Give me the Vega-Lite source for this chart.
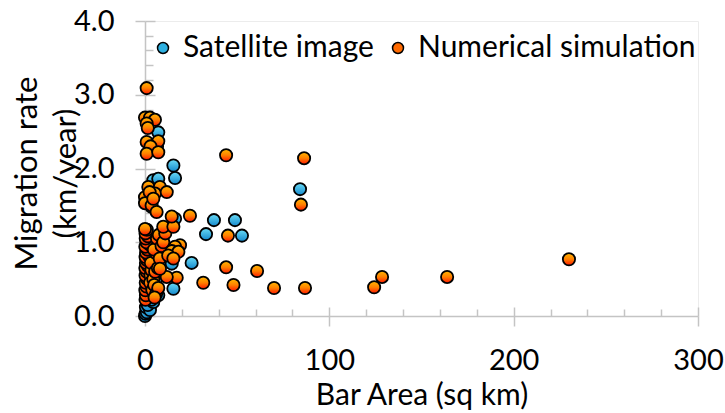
{
  "$schema": "https://vega.github.io/schema/vega-lite/v6.json",
  "width": 553,
  "height": 295,
  "autosize": {"type": "none"},
  "padding": {"left": 145, "top": 21, "right": 27, "bottom": 97},
  "background": "white",
  "config": {
    "view": {"stroke": "#ececec", "strokeWidth": 1},
    "font": "Lato",
    "axis": {"labelFont": "Lato", "titleFont": "Lato", "labelColor": "#000000", "titleColor": "#000000", "titleFontWeight": "normal", "domainColor": "#c4c4c4", "tickColor": "#c4c4c4", "domainWidth": 1.5, "tickWidth": 1.5, "grid": false, "labelFlush": false, "labelOverlap": false},
    "legend": {"labelFont": "Lato", "labelColor": "#000000"}
  },
  "data": {"values": [
    {"area": 0, "rate": 0.0, "series": "Satellite image"},
    {"area": 0.3, "rate": 0.03, "series": "Satellite image"},
    {"area": 1, "rate": 0.05, "series": "Satellite image"},
    {"area": 0.5, "rate": 0.12, "series": "Satellite image"},
    {"area": 2.7, "rate": 0.08, "series": "Satellite image"},
    {"area": 1.5, "rate": 0.15, "series": "Satellite image"},
    {"area": 4.5, "rate": 0.19, "series": "Satellite image"},
    {"area": 3.5, "rate": 0.22, "series": "Satellite image"},
    {"area": 7.2, "rate": 0.28, "series": "Satellite image"},
    {"area": 5.5, "rate": 0.31, "series": "Satellite image"},
    {"area": 2, "rate": 0.4, "series": "Satellite image"},
    {"area": 6, "rate": 0.5, "series": "Satellite image"},
    {"area": 8, "rate": 0.6, "series": "Satellite image"},
    {"area": 1, "rate": 0.7, "series": "Satellite image"},
    {"area": 4, "rate": 0.75, "series": "Satellite image"},
    {"area": 7, "rate": 0.98, "series": "Satellite image"},
    {"area": 3, "rate": 1.02, "series": "Satellite image"},
    {"area": 15.4, "rate": 0.37, "series": "Satellite image"},
    {"area": 14.5, "rate": 0.71, "series": "Satellite image"},
    {"area": 25.3, "rate": 0.72, "series": "Satellite image"},
    {"area": 16.3, "rate": 1.32, "series": "Satellite image"},
    {"area": 10, "rate": 1.1, "series": "Satellite image"},
    {"area": 4.5, "rate": 1.84, "series": "Satellite image"},
    {"area": 7.2, "rate": 1.86, "series": "Satellite image"},
    {"area": 15.4, "rate": 2.04, "series": "Satellite image"},
    {"area": 16.3, "rate": 1.87, "series": "Satellite image"},
    {"area": 7.2, "rate": 2.49, "series": "Satellite image"},
    {"area": 3.5, "rate": 1.48, "series": "Satellite image"},
    {"area": 6.5, "rate": 2.3, "series": "Satellite image"},
    {"area": 37.4, "rate": 1.3, "series": "Satellite image"},
    {"area": 48.8, "rate": 1.3, "series": "Satellite image"},
    {"area": 33.1, "rate": 1.11, "series": "Satellite image"},
    {"area": 52.6, "rate": 1.09, "series": "Satellite image"},
    {"area": 84.1, "rate": 1.72, "series": "Satellite image"},
    {"area": 0.3, "rate": 0.22, "series": "Numerical simulation"},
    {"area": 0.5, "rate": 0.28, "series": "Numerical simulation"},
    {"area": 0.2, "rate": 0.35, "series": "Numerical simulation"},
    {"area": 0.8, "rate": 0.4, "series": "Numerical simulation"},
    {"area": 0.4, "rate": 0.45, "series": "Numerical simulation"},
    {"area": 1.2, "rate": 0.5, "series": "Numerical simulation"},
    {"area": 0.3, "rate": 0.55, "series": "Numerical simulation"},
    {"area": 0.9, "rate": 0.6, "series": "Numerical simulation"},
    {"area": 0.2, "rate": 0.65, "series": "Numerical simulation"},
    {"area": 1.5, "rate": 0.68, "series": "Numerical simulation"},
    {"area": 0.5, "rate": 0.72, "series": "Numerical simulation"},
    {"area": 1.0, "rate": 0.76, "series": "Numerical simulation"},
    {"area": 0.3, "rate": 0.8, "series": "Numerical simulation"},
    {"area": 2.0, "rate": 0.82, "series": "Numerical simulation"},
    {"area": 0.6, "rate": 0.86, "series": "Numerical simulation"},
    {"area": 1.3, "rate": 0.9, "series": "Numerical simulation"},
    {"area": 0.2, "rate": 0.94, "series": "Numerical simulation"},
    {"area": 2.5, "rate": 0.97, "series": "Numerical simulation"},
    {"area": 0.8, "rate": 1.0, "series": "Numerical simulation"},
    {"area": 0.4, "rate": 1.05, "series": "Numerical simulation"},
    {"area": 1.6, "rate": 1.08, "series": "Numerical simulation"},
    {"area": 0.3, "rate": 1.12, "series": "Numerical simulation"},
    {"area": 1.0, "rate": 1.17, "series": "Numerical simulation"},
    {"area": 0, "rate": 1.18, "series": "Numerical simulation"},
    {"area": 3.0, "rate": 0.55, "series": "Numerical simulation"},
    {"area": 3.5, "rate": 0.62, "series": "Numerical simulation"},
    {"area": 2.8, "rate": 0.45, "series": "Numerical simulation"},
    {"area": 4.0, "rate": 0.35, "series": "Numerical simulation"},
    {"area": 3.2, "rate": 0.72, "series": "Numerical simulation"},
    {"area": 4.5, "rate": 0.5, "series": "Numerical simulation"},
    {"area": 5.0, "rate": 0.42, "series": "Numerical simulation"},
    {"area": 5.5, "rate": 0.6, "series": "Numerical simulation"},
    {"area": 6.0, "rate": 0.85, "series": "Numerical simulation"},
    {"area": 4.8, "rate": 0.9, "series": "Numerical simulation"},
    {"area": 7.0, "rate": 0.65, "series": "Numerical simulation"},
    {"area": 8.0, "rate": 0.78, "series": "Numerical simulation"},
    {"area": 6.5, "rate": 1.05, "series": "Numerical simulation"},
    {"area": 7.5, "rate": 1.1, "series": "Numerical simulation"},
    {"area": 9.0, "rate": 0.95, "series": "Numerical simulation"},
    {"area": 9.9, "rate": 1.0, "series": "Numerical simulation"},
    {"area": 11, "rate": 1.12, "series": "Numerical simulation"},
    {"area": 9.9, "rate": 1.21, "series": "Numerical simulation"},
    {"area": 15.4, "rate": 1.21, "series": "Numerical simulation"},
    {"area": 6, "rate": 0.3, "series": "Numerical simulation"},
    {"area": 7.2, "rate": 0.38, "series": "Numerical simulation"},
    {"area": 5.2, "rate": 0.25, "series": "Numerical simulation"},
    {"area": 0.9, "rate": 3.09, "series": "Numerical simulation"},
    {"area": 0, "rate": 2.69, "series": "Numerical simulation"},
    {"area": 2.7, "rate": 2.69, "series": "Numerical simulation"},
    {"area": 5.4, "rate": 2.66, "series": "Numerical simulation"},
    {"area": 0.9, "rate": 2.61, "series": "Numerical simulation"},
    {"area": 1.5, "rate": 2.55, "series": "Numerical simulation"},
    {"area": 0.9, "rate": 2.36, "series": "Numerical simulation"},
    {"area": 7.2, "rate": 2.37, "series": "Numerical simulation"},
    {"area": 3, "rate": 2.3, "series": "Numerical simulation"},
    {"area": 0.9, "rate": 2.2, "series": "Numerical simulation"},
    {"area": 7.2, "rate": 2.22, "series": "Numerical simulation"},
    {"area": 1.8, "rate": 1.75, "series": "Numerical simulation"},
    {"area": 8.1, "rate": 1.75, "series": "Numerical simulation"},
    {"area": 0, "rate": 1.61, "series": "Numerical simulation"},
    {"area": 5.4, "rate": 1.66, "series": "Numerical simulation"},
    {"area": 11.8, "rate": 1.68, "series": "Numerical simulation"},
    {"area": 2.5, "rate": 1.68, "series": "Numerical simulation"},
    {"area": 0, "rate": 1.53, "series": "Numerical simulation"},
    {"area": 3.6, "rate": 1.5, "series": "Numerical simulation"},
    {"area": 4.5, "rate": 1.59, "series": "Numerical simulation"},
    {"area": 6.3, "rate": 1.41, "series": "Numerical simulation"},
    {"area": 14.5, "rate": 1.35, "series": "Numerical simulation"},
    {"area": 24.4, "rate": 1.36, "series": "Numerical simulation"},
    {"area": 19, "rate": 0.96, "series": "Numerical simulation"},
    {"area": 16.3, "rate": 0.94, "series": "Numerical simulation"},
    {"area": 14.5, "rate": 0.88, "series": "Numerical simulation"},
    {"area": 18.1, "rate": 0.87, "series": "Numerical simulation"},
    {"area": 12.6, "rate": 0.82, "series": "Numerical simulation"},
    {"area": 15.4, "rate": 0.78, "series": "Numerical simulation"},
    {"area": 17.2, "rate": 0.52, "series": "Numerical simulation"},
    {"area": 11.8, "rate": 0.53, "series": "Numerical simulation"},
    {"area": 8.1, "rate": 0.64, "series": "Numerical simulation"},
    {"area": 44, "rate": 2.18, "series": "Numerical simulation"},
    {"area": 86.3, "rate": 2.14, "series": "Numerical simulation"},
    {"area": 84.6, "rate": 1.51, "series": "Numerical simulation"},
    {"area": 45, "rate": 1.09, "series": "Numerical simulation"},
    {"area": 44, "rate": 0.66, "series": "Numerical simulation"},
    {"area": 31.6, "rate": 0.45, "series": "Numerical simulation"},
    {"area": 48, "rate": 0.42, "series": "Numerical simulation"},
    {"area": 60.8, "rate": 0.61, "series": "Numerical simulation"},
    {"area": 70, "rate": 0.38, "series": "Numerical simulation"},
    {"area": 86.8, "rate": 0.38, "series": "Numerical simulation"},
    {"area": 124.3, "rate": 0.39, "series": "Numerical simulation"},
    {"area": 128.6, "rate": 0.53, "series": "Numerical simulation"},
    {"area": 163.9, "rate": 0.53, "series": "Numerical simulation"},
    {"area": 230, "rate": 0.77, "series": "Numerical simulation"}
  ]},
  "layer": [
    {
      "mark": {"type": "circle", "size": 110, "opacity": 0},
      "encoding": {
        "x": {"field": "area", "type": "quantitative", "scale": {"domain": [0, 300], "nice": false, "zero": true},
          "axis": {"orient": "bottom", "values": [0,20,40,60,80,100,120,140,160,180,200,220,240,260,280,300], "labels": false, "domain": false, "title": null,
            "tickSize": {"condition": {"test": "datum.value % 100 === 0", "value": -9}, "value": -7}}},
        "y": {"field": "rate", "type": "quantitative", "scale": {"domain": [0, 4], "nice": false},
          "axis": {"orient": "left", "values": [0,0.2,0.4,0.6,0.8,1,1.2,1.4,1.6,1.8,2,2.2,2.4,2.6,2.8,3,3.2,3.4,3.6,3.8,4], "labels": false, "domain": false, "title": null,
            "tickSize": {"condition": {"test": "abs(datum.value - round(datum.value)) < 0.001", "value": -10}, "value": -8}}},
        "fill": {"field": "series", "type": "nominal", "sort": null,
          "scale": {"domain": ["Satellite image", "Numerical simulation"], "range": ["#2fb0e0", "#ff6a00"]},
          "legend": {"title": null, "orient": "none", "legendX": 3, "legendY": 12, "direction": "horizontal", "columns": 2,
            "symbolType": "circle", "symbolSize": 120, "symbolStrokeColor": "#000000", "symbolStrokeWidth": 1.5, "symbolOpacity": 1,
            "labelFontSize": 30, "labelOffset": 5, "columnPadding": 9, "labelLimit": 400,
            "encode": {"symbols": {"update": {
              "opacity": {"value": 1},
              "stroke": {"value": "#000000"},
              "fill": [
                {"test": "datum.value === 'Satellite image'", "value": {"gradient": "linear", "x1": 0, "y1": 0, "x2": 0, "y2": 1, "stops": [{"offset": 0, "color": "#6adcf6"}, {"offset": 1, "color": "#1488cc"}]}},
                {"value": {"gradient": "linear", "x1": 0, "y1": 0, "x2": 0, "y2": 1, "stops": [{"offset": 0, "color": "#ffb800"}, {"offset": 0.5, "color": "#ff8000"}, {"offset": 1, "color": "#ff1800"}]}}
              ]}}}}}
      }
    },
    {
      "transform": [{"filter": "datum.series === 'Satellite image'"}],
      "mark": {"type": "circle", "size": 150, "stroke": "#000000", "strokeWidth": 1.8, "opacity": 1,
        "fill": {"gradient": "linear", "x1": 0, "y1": 0, "x2": 0, "y2": 1, "stops": [{"offset": 0, "color": "#6adcf6"}, {"offset": 1, "color": "#1488cc"}]}},
      "encoding": {
        "x": {"field": "area", "type": "quantitative", "scale": {"domain": [0, 300], "nice": false, "zero": true},
          "axis": {"orient": "bottom", "values": [0, 100, 200, 300], "tickSize": 10, "labelFontSize": 29, "labelPadding": 20,
            "title": "Bar Area (sq km)", "titleFontSize": 30, "titleBaseline": "alphabetic", "titleY": 88}},
        "y": {"field": "rate", "type": "quantitative", "scale": {"domain": [0, 4], "nice": false},
          "axis": {"orient": "left", "values": [0, 1, 2, 3, 4], "format": ".1f", "tickSize": 10, "labelFontSize": 29, "labelPadding": 21,
            "title": ["Migration rate", "(km/year)"], "titleFontSize": 31, "titleBaseline": "alphabetic", "titleAngle": -90, "titleAlign": "center",
            "titleX": -109, "titleY": 152, "titleLineHeight": 39}}
      }
    },
    {
      "transform": [{"filter": "datum.series === 'Numerical simulation'"}],
      "mark": {"type": "circle", "size": 150, "stroke": "#000000", "strokeWidth": 1.8, "opacity": 1,
        "fill": {"gradient": "linear", "x1": 0, "y1": 0, "x2": 0, "y2": 1, "stops": [{"offset": 0, "color": "#ffb800"}, {"offset": 0.5, "color": "#ff8000"}, {"offset": 1, "color": "#ff1800"}]}},
      "encoding": {
        "x": {"field": "area", "type": "quantitative", "scale": {"domain": [0, 300], "nice": false, "zero": true}, "axis": null},
        "y": {"field": "rate", "type": "quantitative", "scale": {"domain": [0, 4], "nice": false}, "axis": null}
      }
    }
  ],
  "resolve": {"axis": {"x": "independent", "y": "independent"}}
}
